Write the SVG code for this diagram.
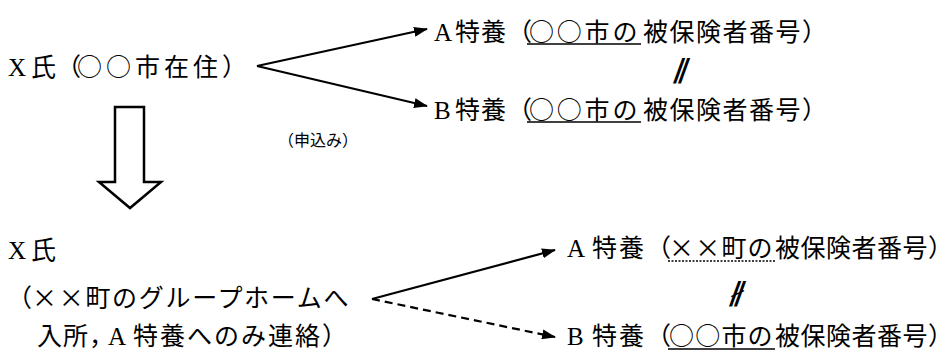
<svg xmlns="http://www.w3.org/2000/svg" width="945" height="361" viewBox="0 0 945 361">
<style>
.t{font-family:"Noto Sans CJK JP","Liberation Serif",serif;font-size:25px;fill:#000}
.l{font-family:"Liberation Serif","Noto Sans CJK JP",serif;font-size:25px;fill:#000}
.s{font-family:"Noto Sans CJK JP","Liberation Sans",sans-serif;font-size:16px;fill:#000}
.sym{font-family:"DejaVu Sans","Noto Sans CJK JP",sans-serif;font-size:26px;font-weight:bold;fill:#000}
.ln{stroke:#000;stroke-width:2.2;fill:none}
.ul{stroke:#000;stroke-width:1.6}
</style>
<defs>
<marker id="ah" viewBox="0 0 14 10" refX="13" refY="5" markerWidth="14" markerHeight="10" markerUnits="userSpaceOnUse" orient="auto">
<path d="M0,0 L14,5 L0,10 Z" fill="#000"/>
</marker>
</defs>
<rect width="945" height="361" fill="#fff"/>
<g id="connectors">
<path class="ln" d="M257,66 L427,29" marker-end="url(#ah)"/>
<path class="ln" d="M257,66 L427,106" marker-end="url(#ah)"/>
<path class="ln" d="M372,299 L555,250" marker-end="url(#ah)"/>
<path class="ln" d="M372,299 L555,337" stroke-dasharray="8,5" marker-end="url(#ah)"/>
<polygon points="115,107 144,107 144,182 161,182 130,208 99,182 115,182" fill="#fff" stroke="#000" stroke-width="2.5" stroke-linejoin="miter"/>
</g>
<g id="x-before">
<text class="t" y="76"><tspan class="l" x="8">X</tspan><tspan x="31">氏</tspan><tspan x="56" letter-spacing="-6">（</tspan><tspan x="77" letter-spacing="4">○○市在住</tspan><tspan x="222" letter-spacing="-12">）</tspan></text>
</g>
<g id="a-top">
<text class="t" y="41"><tspan class="l" x="434">A</tspan><tspan x="455" letter-spacing="1">特養</tspan><tspan x="507" letter-spacing="-5">（</tspan><tspan x="529" letter-spacing="2.8">○○市の</tspan><tspan x="643" letter-spacing="1.5">被保険者番号</tspan><tspan x="802" letter-spacing="-12">）</tspan></text>
<line class="ul" x1="527" y1="44" x2="641" y2="44"/>
</g>
<g id="eq-top">
<text class="sym" x="682" y="78" text-anchor="middle" transform="translate(25,0) skewX(-20)">∥</text>
</g>
<g id="b-top">
<text class="t" y="119"><tspan class="l" x="434">B</tspan><tspan x="455" letter-spacing="1">特養</tspan><tspan x="507" letter-spacing="-5">（</tspan><tspan x="529" letter-spacing="2.8">○○市の</tspan><tspan x="643" letter-spacing="1.5">被保険者番号</tspan><tspan x="802" letter-spacing="-12">）</tspan></text>
<line class="ul" x1="527" y1="122" x2="641" y2="122"/>
</g>
<g id="apply">
<text class="s" x="278" y="146">（申込み）</text>
</g>
<g id="x-after">
<text class="t" y="259"><tspan class="l" x="8">X</tspan><tspan x="31">氏</tspan></text>
<text class="t" y="307"><tspan x="7" letter-spacing="-1">（</tspan><tspan x="32" letter-spacing="1.7">××町のグループホームへ</tspan></text>
<text class="t" y="345"><tspan x="37" letter-spacing="1">入所</tspan><tspan x="89" letter-spacing="-8">，</tspan><tspan class="l" x="108">A</tspan><tspan x="133" letter-spacing="2">特養へのみ連絡</tspan><tspan x="322" letter-spacing="-12">）</tspan></text>
</g>
<g id="a-bottom">
<text class="t" y="257"><tspan class="l" x="567">A</tspan><tspan x="592" letter-spacing="2">特養</tspan><tspan x="646" letter-spacing="-4">（</tspan><tspan x="669" letter-spacing="1.2">××町の</tspan><tspan x="775" letter-spacing="0.5">被保険者番号</tspan><tspan x="928" letter-spacing="-12">）</tspan></text>
<line class="ul" x1="668" y1="261" x2="775" y2="261" stroke-dasharray="2,1.5"/>
</g>
<g id="neq-bottom">
<text class="sym" x="735" y="301" text-anchor="middle" transform="translate(109,0) skewX(-20)">∦</text>
</g>
<g id="b-bottom">
<text class="t" y="345"><tspan class="l" x="567">B</tspan><tspan x="592" letter-spacing="2">特養</tspan><tspan x="646" letter-spacing="-4">（</tspan><tspan x="669" letter-spacing="1.2">○○市の</tspan><tspan x="775" letter-spacing="0.5">被保険者番号</tspan><tspan x="928" letter-spacing="-12">）</tspan></text>
<line class="ul" x1="668" y1="349" x2="775" y2="349"/>
</g>
</svg>
